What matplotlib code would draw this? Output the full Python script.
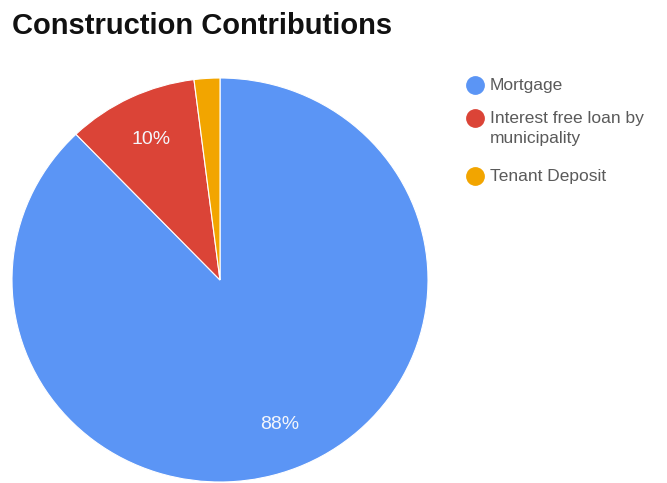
import matplotlib
matplotlib.use("Agg")
import matplotlib.pyplot as plt
from matplotlib.lines import Line2D

plt.rcParams['font.family'] = ['Liberation Sans', 'DejaVu Sans']

labels = ["Mortgage", "Interest free loan by\nmunicipality", "Tenant Deposit"]
values = [88.0, 10.2, 2.0]
colors = ["#5b95f5", "#db4437", "#f2a500"]

W, H = 667, 483
fig = plt.figure(figsize=(W / 100, H / 100), dpi=100)
ax = fig.add_axes([12 / W, 1 / H, 416 / W, 404 / H])


def pct_label(p):
    return f"{p:.0f}%" if p >= 5 else ""


wedges, texts, autotexts = ax.pie(
    values, colors=colors, startangle=90, counterclock=False,
    autopct=pct_label, pctdistance=0.77,
    wedgeprops=dict(edgecolor="white", linewidth=0.8),
    textprops=dict(color="#f4f6fb", fontsize=14),
)
ax.set_aspect("auto")
ax.set_xlim(-1, 1)
ax.set_ylim(-1, 1)

fig.text(12 / W, 1 - 26 / H, "Construction Contributions",
         fontsize=21, fontweight="bold", color="#111111", va="center")

# legend drawn by hand so the wrapped label gets Google-like spacing
y = 85
for lab, c in zip(labels, colors):
    fig.add_artist(Line2D([475 / W], [1 - y / H], transform=fig.transFigure,
                          marker="o", markersize=12.5, linestyle="none",
                          markerfacecolor=c, markeredgecolor=c))
    fig.text(490 / W, 1 - (y - 7) / H, lab, fontsize=12.5, color="#5a5a5a",
             va="top", linespacing=1.45)
    y += 33 + 25 * lab.count("\n")

fig.savefig("out.png", dpi=100)
